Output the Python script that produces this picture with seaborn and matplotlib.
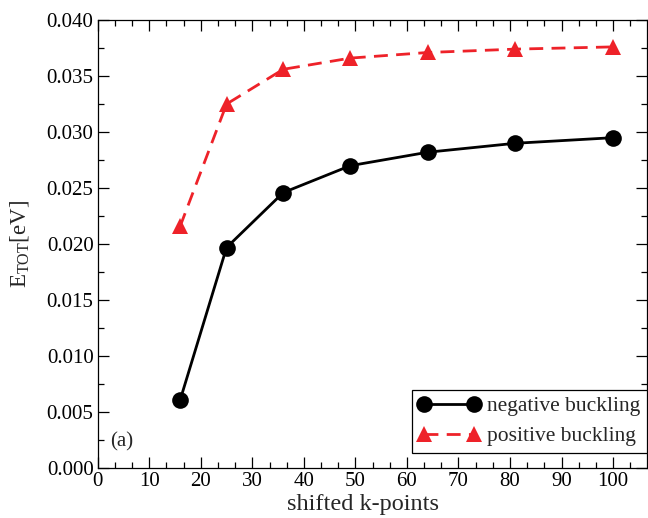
import matplotlib
matplotlib.use("Agg")
import matplotlib.pyplot as plt
from matplotlib.ticker import MultipleLocator, FormatStrFormatter
import seaborn as sns
import pandas as pd

# k-point convergence of total energy
kpoints = [16, 25, 36, 49, 64, 81, 100]
negative_buckling = [0.0061, 0.0197, 0.0246, 0.0270, 0.0282, 0.0290, 0.0295]
positive_buckling = [0.0216, 0.0325, 0.0356, 0.0366, 0.0371, 0.0374, 0.0376]
series_names = ["negative buckling", "positive buckling"]

sns.set_style("ticks")
plt.rcParams["font.family"] = ["Liberation Serif", "DejaVu Serif"]
plt.rcParams["mathtext.fontset"] = "custom"
plt.rcParams["mathtext.rm"] = "Liberation Serif"
plt.rcParams["mathtext.it"] = "Liberation Serif:italic"

df = pd.DataFrame({
    "k": kpoints * 2,
    "E": negative_buckling + positive_buckling,
    "series": [series_names[0]] * len(kpoints) + [series_names[1]] * len(kpoints),
})

fig = plt.figure(figsize=(6.48, 5.18), dpi=100)
ax = fig.add_axes([0.1508, 0.0959, 0.847, 0.8655])

sns.lineplot(
    data=df, x="k", y="E", hue="series", style="series",
    palette={series_names[0]: "black", series_names[1]: "#ee2229"},
    markers={series_names[0]: "o", series_names[1]: "^"},
    dashes={series_names[0]: "", series_names[1]: (5, 3)},
    linewidth=2.0, markersize=12, markeredgewidth=0, ax=ax, legend=False,
)

ax.set_xlim(0, 106.5)
ax.set_ylim(0, 0.040)
ax.xaxis.set_major_locator(MultipleLocator(10))
ax.xaxis.set_minor_locator(MultipleLocator(10 / 3))
ax.yaxis.set_major_locator(MultipleLocator(0.005))
ax.yaxis.set_minor_locator(MultipleLocator(0.0025))
ax.yaxis.set_major_formatter(FormatStrFormatter("%.3f"))

ax.tick_params(which="both", direction="in", top=True, right=True,
               labelsize=15, width=0.9, colors="black")
ax.tick_params(which="major", length=8, pad=3)
ax.tick_params(which="minor", length=4.3)
for s in ax.spines.values():
    s.set_linewidth(0.9)
    s.set_color("black")

ax.set_xlabel("shifted k-points", fontsize=17.5)
ax.xaxis.set_label_coords(0.484, -0.058)
ax.set_ylabel(r"E$_{\mathrm{TOT}}$[eV]", fontsize=16.5)
ax.yaxis.set_label_coords(-0.122, 0.5)

ax.text(0.022, 0.059, "(a)", transform=ax.transAxes, fontsize=15, va="center")

handles = [
    plt.Line2D([], [], color="black", lw=2.0, marker="o", ms=12, mew=0),
    plt.Line2D([], [], color="#ee2229", lw=2.0, ls=(0, (5, 3)), marker="^", ms=12, mew=0),
]
leg = ax.legend(handles, series_names, loc="lower right",
                bbox_to_anchor=(1.0, 0.035), fontsize=15.5, numpoints=2,
                handlelength=2.9, handletextpad=0.3, borderpad=0.3,
                labelspacing=0.45, borderaxespad=0, fancybox=False,
                framealpha=1, edgecolor="black")
leg.get_frame().set_linewidth(0.9)

fig.savefig("out.png", dpi=100)
